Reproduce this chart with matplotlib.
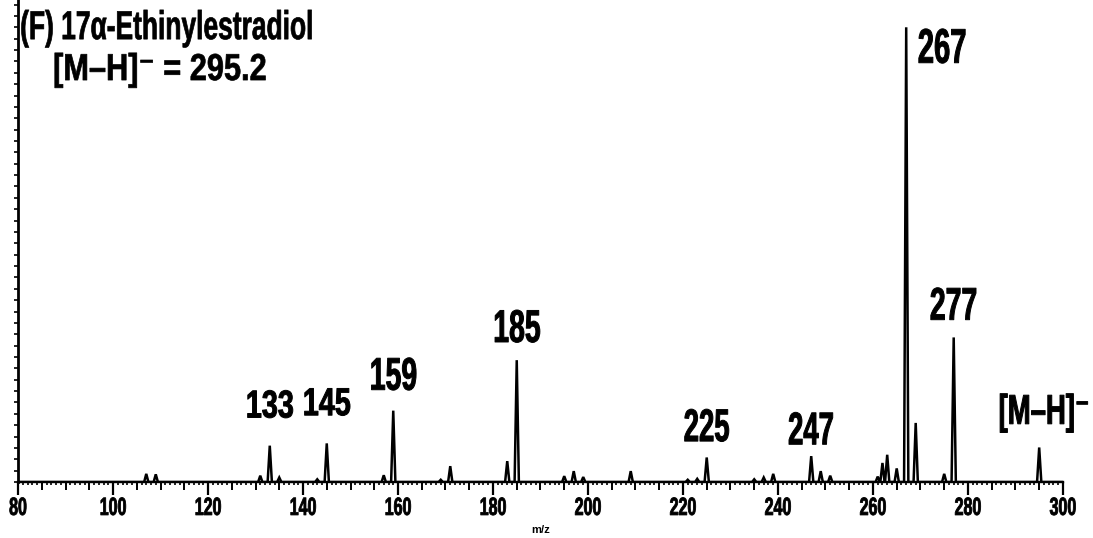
import matplotlib
matplotlib.use("Agg")
import matplotlib.pyplot as plt
from matplotlib import patheffects
from matplotlib.transforms import Affine2D
from matplotlib.ticker import MultipleLocator, FixedLocator, NullFormatter

# peak list: nominal m/z and relative intensity (%)
mz = [107, 109, 131, 133, 135, 143, 145, 157, 159, 169, 171, 183, 185,
      195, 197, 199, 209, 221, 223, 225, 235, 237, 239, 247, 249, 251,
      261, 262, 263, 265, 267, 269, 275, 277, 295]
intensity = [1.8, 1.7, 1.4, 8.0, 1.0, 0.6, 8.5, 1.5, 15.7, 0.5, 3.5, 4.6, 26.8,
             1.3, 2.4, 1.1, 2.4, 0.5, 0.7, 5.4, 0.6, 1.0, 1.8, 5.7, 2.4, 1.4,
             1.2, 4.2, 6.0, 3.0, 100.0, 13.0, 1.8, 31.8, 7.6]

labels = ["133", "145", "159", "185", "225", "247", "267", "277", "[M\u2013H]\u207b"]
label_mz = [133, 145, 159, 185, 225, 247, 267, 277, 295]

tick_vals = list(range(80, 301, 20))


class Squeeze(patheffects.AbstractPathEffect):
    """Draw text narrower and heavier, like a condensed black face."""

    def __init__(self, sx, anchor="center", lw=0.7):
        super().__init__()
        self.sx = sx
        self.anchor = anchor
        self.lw = lw

    def draw_path(self, renderer, gc, tpath, affine, rgbFace=None):
        box = tpath.get_extents(affine)
        x0 = box.x0 if self.anchor == "left" else 0.5 * (box.x0 + box.x1)
        squeeze = Affine2D().translate(-x0, 0).scale(self.sx, 1).translate(x0, 0)
        gc0 = renderer.new_gc()
        gc0.copy_properties(gc)
        gc0.set_linewidth(self.lw)
        gc0.set_foreground(rgbFace)
        gc0.set_joinstyle("round")
        renderer.draw_path(gc0, tpath, affine + squeeze, rgbFace)
        gc0.restore()


# build a profile trace from the peak list
xs, ys = [80], [0]
for m, h in sorted(zip(mz, intensity)):
    xs += [m - 0.45, m, m + 0.45]
    ys += [0, h, 0]
xs.append(300)
ys.append(0)

font = dict(family=["Liberation Sans", "DejaVu Sans"], fontweight="bold")

fig = plt.figure(figsize=(10.93, 5.38), dpi=100)
ax = fig.add_axes([0.0165, 0.104, 0.956, 0.896])
ax.plot(xs, ys, color="black", lw=1.8, solid_joinstyle="miter")
ax.set_xlim(80, 300)
ax.set_ylim(0, 106)

for s in ["top", "right"]:
    ax.spines[s].set_visible(False)
ax.spines["left"].set_linewidth(2.0)
ax.spines["bottom"].set_linewidth(1.7)

ax.xaxis.set_major_locator(FixedLocator(tick_vals))
ax.xaxis.set_minor_locator(MultipleLocator(1))
ax.set_xticklabels([str(v) for v in tick_vals], **font, fontsize=18)
for lbl in ax.get_xticklabels():
    lbl.set_path_effects([Squeeze(0.64, lw=0.6)])
ax.tick_params(axis="x", which="major", length=9, width=1.6, pad=1)
ax.tick_params(axis="x", which="minor", length=2.5, width=1.2)

# medium ticks every 5 units
sec = ax.secondary_xaxis("bottom")
sec.xaxis.set_major_locator(MultipleLocator(5))
sec.xaxis.set_major_formatter(NullFormatter())
sec.tick_params(length=5.5, width=1.4)
sec.spines["bottom"].set_visible(False)

ax.yaxis.set_major_locator(MultipleLocator(2.5))
ax.yaxis.set_major_formatter(NullFormatter())
ax.tick_params(axis="y", length=3, width=1.2)

ax.set_xlabel("m/z", **font, fontsize=8, labelpad=4)

# label size, squeeze and height above the peak
label_style = {133: (28, 0.74, 6.2), 145: (28, 0.74, 6.2), 159: (33, 0.62, 4.6),
               185: (33, 0.62, 4.0), 225: (33, 0.60, 3.6), 247: (33, 0.60, 2.6),
               277: (33, 0.62, 3.9), 295: (30, 0.66, 5.2)}

for m, t in zip(label_mz, labels):
    h = intensity[mz.index(m)]
    if m == 267:
        txt = ax.text(m + 2.3, h - 7.8, t, ha="left", va="baseline",
                      fontsize=35, **font)
        txt.set_path_effects([Squeeze(0.6, "left")])
    else:
        size, sx, dy = label_style[m]
        txt = ax.text(m + (1 if m == 295 else 0), h + dy, t, ha="center",
                      va="baseline", fontsize=size, **font)
        txt.set_path_effects([Squeeze(sx)])

title = ax.text(80.3, 97.4, "(F) 17\u03b1-Ethinylestradiol", ha="left",
                va="baseline", fontsize=29, **font)
title.set_path_effects([Squeeze(0.655, "left", lw=0.5)])
sub = ax.text(87.3, 88.4, "[M\u2013H]\u207b = 295.2", ha="left", va="baseline",
              fontsize=27, **font)
sub.set_path_effects([Squeeze(0.82, "left", lw=0.5)])

fig.savefig("out.png", dpi=100)
